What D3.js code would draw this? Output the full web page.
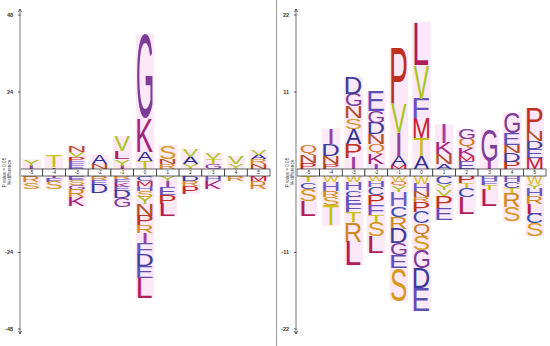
<!DOCTYPE html>
<html>
<head>
<meta charset="utf-8">
<script src="https://cdn.jsdelivr.net/npm/d3@7"></script>
<style>
  body { margin: 0; background: #fff; }
  svg { display: block; }
  text { font-family: "Liberation Sans", Arial, sans-serif; }
</style>
</head>
<body>
<svg id="chart"></svg>
<script>
// positions along the sequence
const positions = [-5, -4, -3, -2, -1, 0, 1, 2, 3, 4, 5];

// left logo: letters from the baseline outwards, with their % difference
const leftUpLetters = ["IY", "IT", "EFPVN", "NA", "IYLV", "TAKG", "RNS", "YAV", "GTV", "YV", "NRAV"];
const leftUpValues = [
  [1.0, 2.0], [0.5, 3.4], [1.2, 1.2, 1.3, 1.7, 1.8], [1.7, 2.8], [1.0, 2.0, 2.5, 4.7],
  [2.5, 2.8, 10.5, 26.3], [1.5, 1.7, 4.3], [1.6, 2.2, 2.5], [1.6, 1.6, 1.9], [1.5, 2.5],
  [1.5, 1.5, 1.5, 1.5]
];
const leftDownLetters = ["RS", "IFS", "ESGRK", "RED", "RFKEDG", "CMHSYNPRIFDEL", "YIEPL", "DRP", "HK", "R", "MR"];
const leftDownValues = [
  [1.9, 2.2], [0.6, 1.3, 2.3], [1.2, 1.5, 1.8, 2.2, 2.6], [1.2, 1.5, 2.7], [0.9, 1.2, 1.2, 1.5, 2.2, 2.8],
  [1.55, 1.55, 1.55, 1.86, 2.17, 3.72, 3.1, 2.48, 3.1, 3.72, 3.4, 3.72, 6.2],
  [1.55, 1.86, 2.48, 2.79, 4.0], [1.5, 1.5, 2.5], [1.6, 2.5], [1.7], [1.6, 2.5]
];
const leftTicks = [48, 24, -24, -48];

// right logo
const rightUpLetters = ["PNQ", "PNDI", "IPASNGD", "IKQNDGE", "MAIVP", "ATMFVL", "ANKI", "EMKQG", "IG", "PDNEG", "MEDNP"];
const rightUpValues = [
  [0.85, 1.1, 1.3], [0.7, 1.13, 1.7, 2.26], [1.56, 1.99, 2.13, 1.56, 1.7, 1.84, 2.41],
  [0.71, 1.42, 1.42, 1.42, 1.56, 1.7, 2.84], [0.57, 1.28, 3.26, 4.26, 7.8],
  [1.84, 2.55, 2.84, 2.84, 4.82, 6.1], [0.71, 1.42, 1.56, 2.7], [1.13, 0.71, 1.13, 1.28, 1.42],
  [1.13, 4.54], [1.0, 1.28, 1.13, 1.7, 2.98], [1.56, 1.28, 1.13, 1.42, 3.26]
];
const rightDownLetters = ["TCSL", "WHRST", "WHCEFTRL", "WHCPFTSL", "WQYHCRDGES", "WHNRPCQSGDE", "CYVPE", "PTCL", "HFTL", "HCTRS", "WYHRLCS"];
const rightDownValues = [
  [0.85, 1.0, 1.7, 2.15], [0.85, 1.3, 0.85, 1.15, 3.0],
  [0.86, 1.14, 1.0, 1.0, 1.14, 1.43, 2.86, 3.43],
  [0.71, 0.86, 1.14, 1.43, 1.43, 1.14, 2.0, 2.29],
  [0.71, 0.71, 0.86, 2.0, 1.57, 1.71, 2.14, 1.71, 1.86, 4.71],
  [1.14, 1.0, 0.86, 0.71, 1.43, 1.71, 1.86, 2.0, 2.57, 2.86, 3.29],
  [1.14, 0.86, 0.86, 1.71, 1.71], [1.0, 0.71, 1.29, 2.43], [0.71, 0.57, 0.71, 2.3],
  [0.86, 0.86, 0.71, 2.0, 2.14], [1.14, 0.71, 1.0, 1.14, 1.43, 1.43, 1.86]
];
const rightTicks = [22, 11, -11, -22];

// amino acid colours
const aaColor = {
  A: "#2e3192", C: "#3a4fb0", D: "#3b3b9a", E: "#5a4fb5", F: "#6655c0",
  G: "#7d3c98", H: "#6b5bc0", I: "#9b3fa5", K: "#a3237a", L: "#b01e5a",
  M: "#c8203c", N: "#b0502a", P: "#c0301e", Q: "#d07a20", R: "#d08a1a",
  S: "#d49a20", T: "#c8c010", V: "#a8c41c", W: "#d4c020", Y: "#a8c41c"
};

const width = 550, height = 346;
const svg = d3.select("#chart").attr("width", width).attr("height", height);

// glyph bounds from a canvas so letters can be stretched to their box
const ctx = document.createElement("canvas").getContext("2d");
ctx.font = "100px 'Liberation Sans'";
const glyph = {};
function bounds(ch) {
  if (!glyph[ch]) {
    const m = ctx.measureText(ch);
    glyph[ch] = {
      left: m.actualBoundingBoxLeft, right: m.actualBoundingBoxRight,
      asc: m.actualBoundingBoxAscent, desc: m.actualBoundingBoxDescent
    };
  }
  return glyph[ch];
}

const letterLayer = svg.append("g");
const bgLayer = letterLayer.append("g");
const fgLayer = letterLayer.append("g");

function drawLetter(ch, x0, y0, w, h) {
  if (h <= 0.3) return;
  const b = bounds(ch);
  const gw = b.left + b.right, gh = b.asc + b.desc;
  // narrow glyphs (I) keep a thin stroke instead of being stretched into a block
  const sx = Math.min(w / gw, w / 50);
  const dx = (w - gw * sx) / 2;
  bgLayer.append("rect")
    .attr("x", x0 - 1.5).attr("y", y0)
    .attr("width", w + 3).attr("height", h)
    .attr("fill", "#f9d6ee").attr("opacity", 0.55);
  fgLayer.append("text")
    .attr("font-size", 100)
    .attr("fill", aaColor[ch])
    .attr("transform", `translate(${x0 + dx},${y0}) scale(${sx},${h / gh}) translate(${b.left},${b.asc})`)
    .text(ch);
}

function drawPanel(opts) {
  const {x0, x1, axisX, titleX, maxV, ticks, upL, upV, downL, downV} = opts;
  const stripTop = 169, stripBottom = 176;

  const x = d3.scaleBand().domain(positions).range([x0, x1]).padding(0);
  const yUp = d3.scaleLinear().domain([0, maxV]).range([stripTop, 15]);
  const yDown = d3.scaleLinear().domain([0, -maxV]).range([stripBottom, 329]);

  const lw = x.bandwidth() * 0.68;

  positions.forEach((p, i) => {
    const cx = x(p) + (x.bandwidth() - lw) / 2;
    // letters above the strip
    let acc = 0;
    upL[i].split("").forEach((ch, j) => {
      const yb = yUp(acc), yt = yUp(acc + upV[i][j]);
      drawLetter(ch, cx, yt, lw, yb - yt);
      acc += upV[i][j];
    });
    // letters below the strip
    acc = 0;
    downL[i].split("").forEach((ch, j) => {
      const yt = yDown(-acc), yb = yDown(-(acc + downV[i][j]));
      drawLetter(ch, cx, yt, lw, yb - yt);
      acc += downV[i][j];
    });
  });

  // position strip
  const strip = svg.append("g");
  strip.selectAll("rect")
    .data(positions)
    .enter()
    .append("rect")
      .attr("x", d => x(d))
      .attr("y", stripTop)
      .attr("width", x.bandwidth())
      .attr("height", stripBottom - stripTop)
      .attr("fill", "#fff")
      .attr("stroke", "#222")
      .attr("stroke-width", 0.7);
  strip.selectAll("text")
    .data(positions)
    .enter()
    .append("text")
      .attr("x", d => x(d) + x.bandwidth() / 2)
      .attr("y", (stripTop + stripBottom) / 2 + 1.6)
      .attr("text-anchor", "middle")
      .attr("font-size", 4.6)
      .attr("fill", "#222")
      .text(d => d);

  // y axis
  const ax = svg.append("g");
  ax.append("line")
    .attr("x1", axisX).attr("x2", axisX)
    .attr("y1", 9).attr("y2", 334)
    .attr("stroke", "#b4b4b4").attr("stroke-width", 1.8);
  [[9, -1], [334, 1]].forEach(([yy, dir]) => {
    ax.append("path")
      .attr("d", `M${axisX - 1.6},${yy - dir * 3}L${axisX},${yy}L${axisX + 1.6},${yy - dir * 3}`)
      .attr("fill", "none").attr("stroke", "#222").attr("stroke-width", 0.7);
  });
  ticks.forEach(t => {
    const yy = t > 0 ? yUp(t) : yDown(t);
    ax.append("line")
      .attr("x1", axisX - 2).attr("x2", axisX + 0.5)
      .attr("y1", yy).attr("y2", yy)
      .attr("stroke", "#222").attr("stroke-width", 0.7);
    ax.append("text")
      .attr("x", axisX - 7).attr("y", yy + 1.8)
      .attr("text-anchor", "end")
      .attr("font-size", 5.5)
      .attr("font-weight", "bold")
      .attr("fill", "#333")
      .text(t);
  });

  // axis title
  const title = ax.append("text")
    .attr("transform", `translate(${titleX},${(stripTop + stripBottom) / 2}) rotate(-90)`)
    .attr("text-anchor", "middle")
    .attr("font-size", 4.6)
    .attr("fill", "#333");
  title.append("tspan").attr("x", 0).attr("dy", 0).text("P value = 0.05");
  title.append("tspan").attr("x", 0).attr("dy", 4.8).text("% difference");
}

drawPanel({
  x0: 20, x1: 270, axisX: 20, titleX: 6, maxV: 48, ticks: leftTicks,
  upL: leftUpLetters, upV: leftUpValues, downL: leftDownLetters, downV: leftDownValues
});
drawPanel({
  x0: 297, x1: 546, axisX: 296, titleX: 289, maxV: 22, ticks: rightTicks,
  upL: rightUpLetters, upV: rightUpValues, downL: rightDownLetters, downV: rightDownValues
});

// divider between the two logos
svg.append("line")
  .attr("x1", 276.5).attr("x2", 276.5)
  .attr("y1", 0).attr("y2", height)
  .attr("stroke", "#9a9a9a").attr("stroke-width", 1);
</script>
</body>
</html>
